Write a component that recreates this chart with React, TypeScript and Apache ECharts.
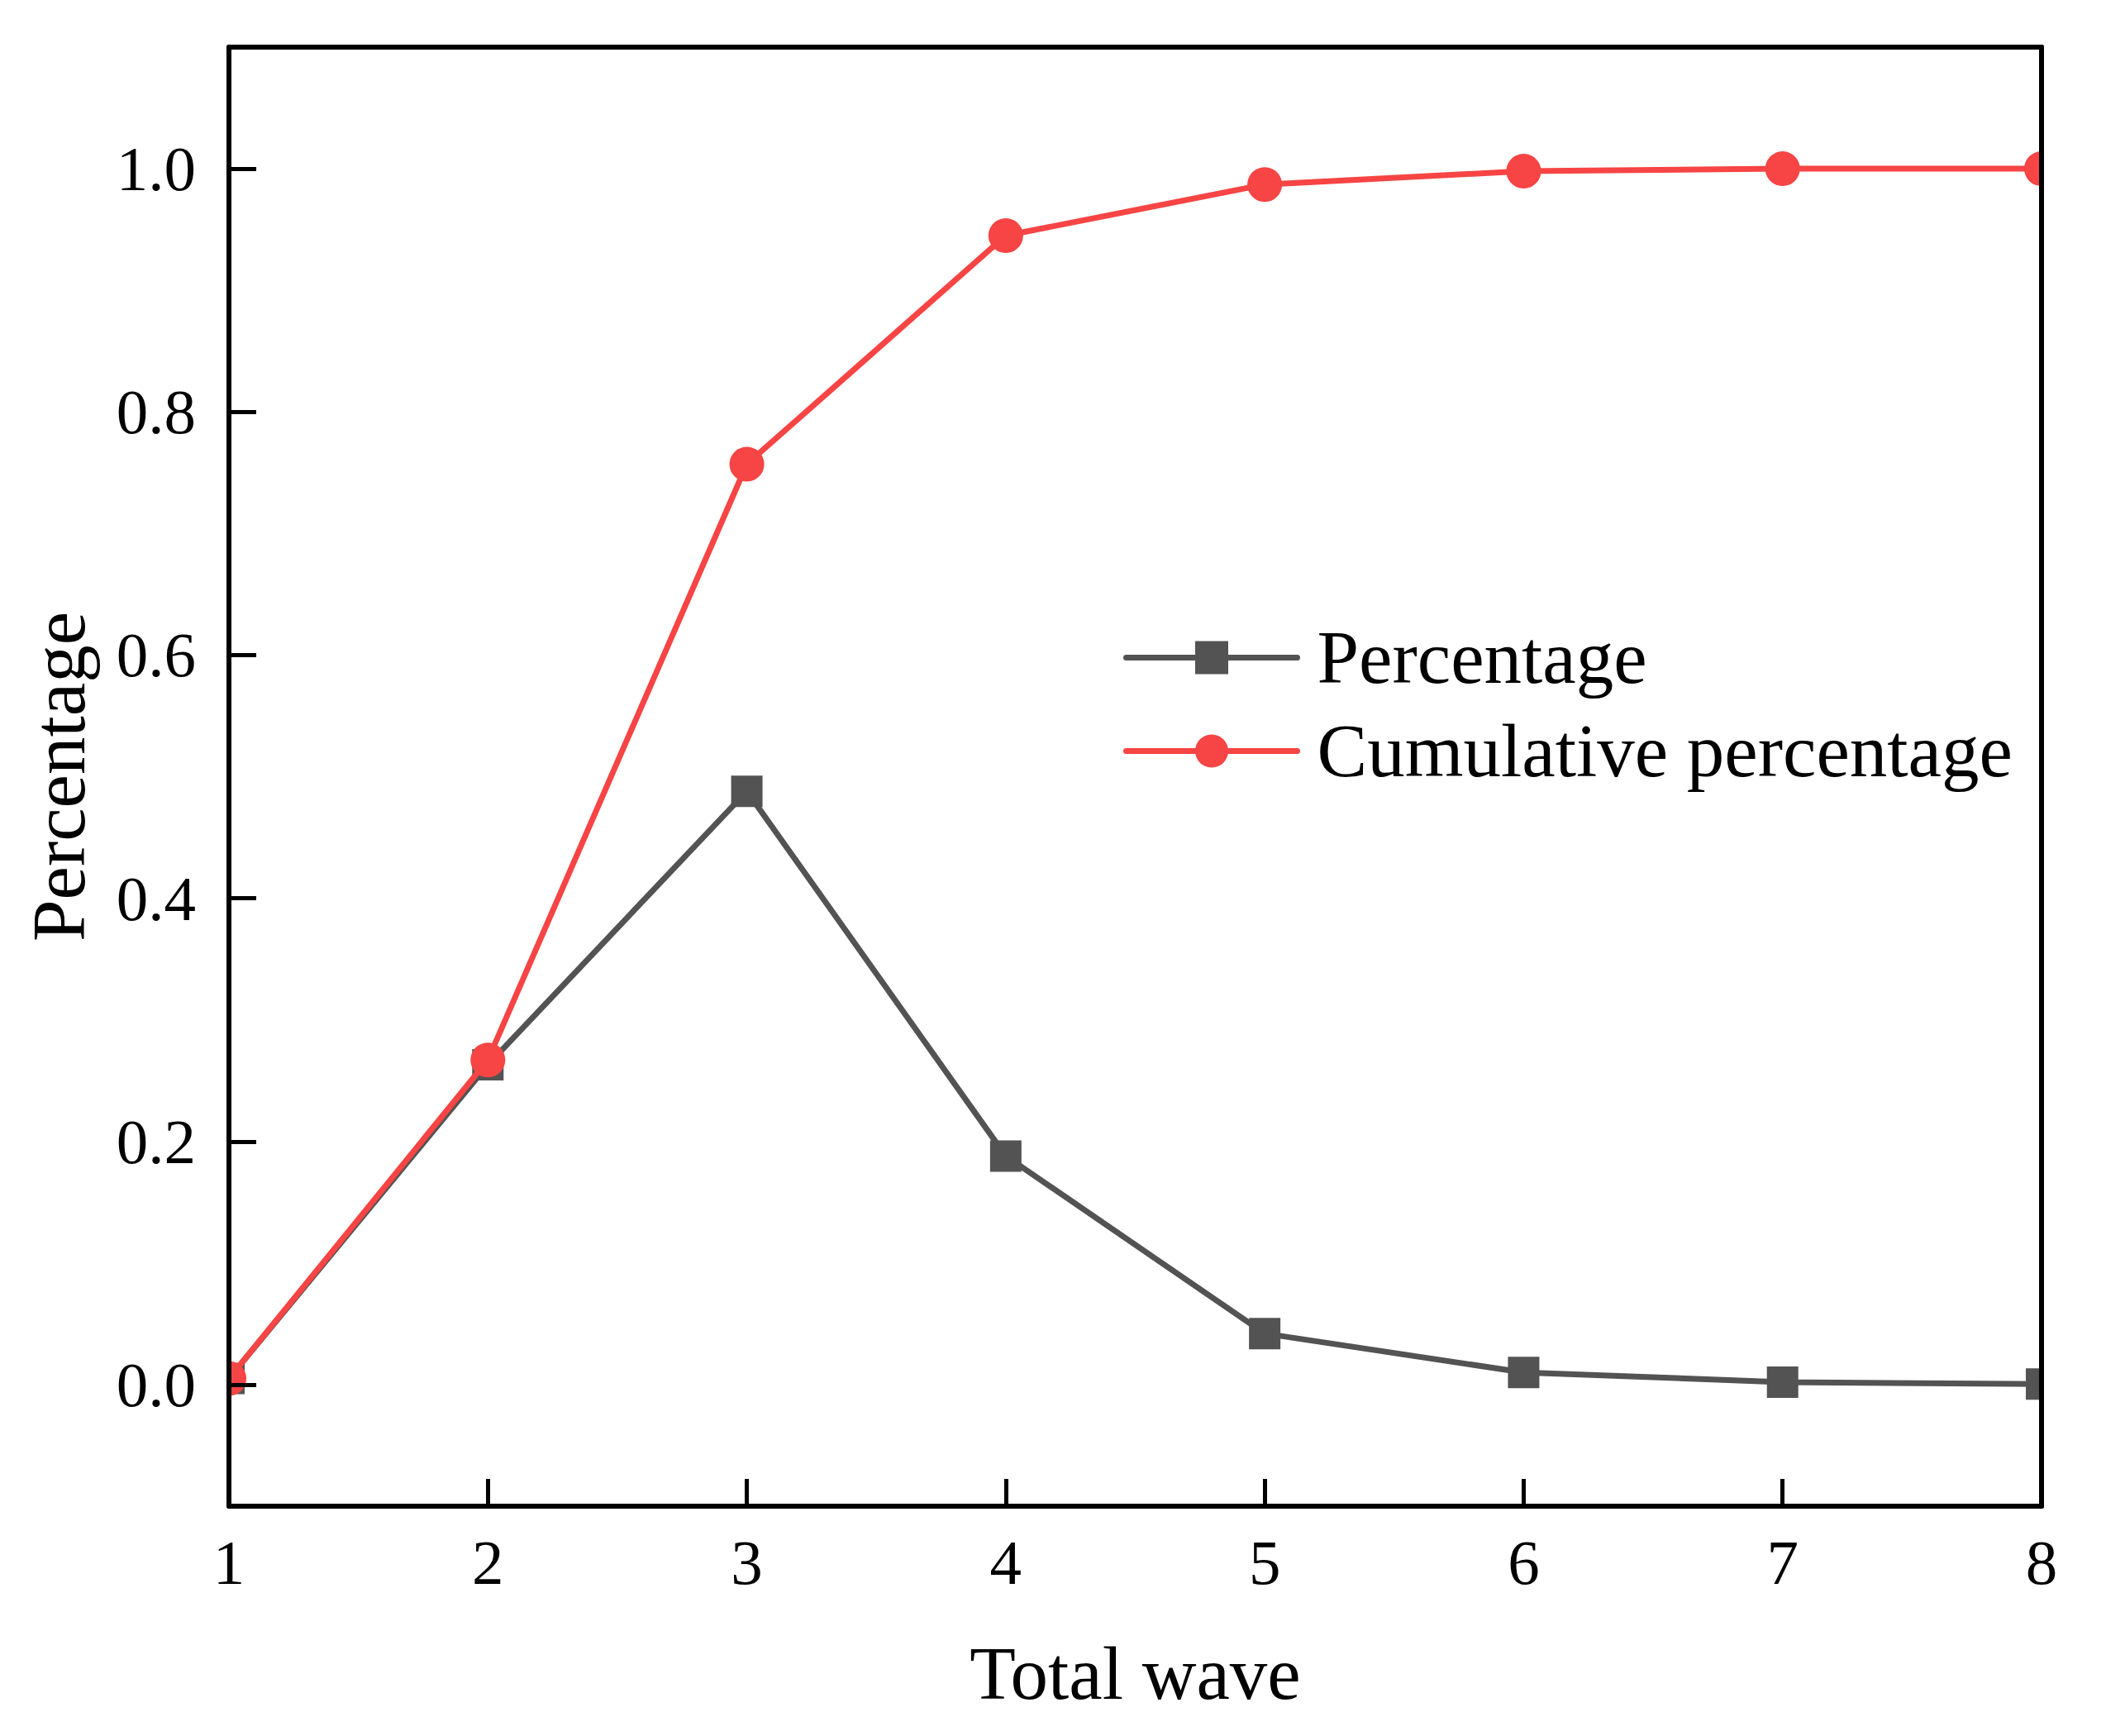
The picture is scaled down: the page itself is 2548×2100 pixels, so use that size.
import React, { useEffect, useRef } from "react";
import * as echarts from "echarts";

const waves = [1, 2, 3, 4, 5, 6, 7, 8];
const percentage = [0.005, 0.263, 0.488, 0.188, 0.042, 0.01, 0.002, 0.0005];
const cumulative = [0.005, 0.267, 0.757, 0.945, 0.987, 0.998, 1.0, 1.0];
const yTicks = [0, 0.2, 0.4, 0.6, 0.8, 1.0];

const W = 2548;
const H = 2100;
const GL = 277;
const GR = 78;
const GT = 57;
const GB = 278;
const FONT = '"Liberation Serif", "Times New Roman", serif';
const GRAY = "#535353";
const RED = "#F74444";

export default function App() {
  const ref = useRef<HTMLDivElement>(null);
  useEffect(() => {
    if (!ref.current) return;
    const chart = echarts.init(ref.current, null, { renderer: "svg" });
    const axisLine = { show: true, onZero: false, lineStyle: { color: "#000", width: 6 } };
    chart.setOption({
      animation: false,
      backgroundColor: "#fff",
      grid: { left: GL, right: GR, top: GT, bottom: GB, containLabel: false },
      legend: {
        orient: "vertical",
        left: 1354,
        top: 745,
        itemWidth: 207,
        itemHeight: 50,
        itemGap: 22,
        textStyle: { fontFamily: FONT, fontSize: 91, color: "#000", padding: [0, 0, 0, 19] },
        data: [
          { name: "Percentage", lineStyle: { width: 7, color: GRAY, cap: "round" } },
          { name: "Cumulative percentage", lineStyle: { width: 7, color: RED, cap: "round" } },
        ],
      },
      xAxis: [
        {
          type: "value",
          min: 1,
          max: 8,
          interval: 1,
          z: 10,
          name: "Total wave",
          nameLocation: "middle",
          nameGap: 157,
          nameTextStyle: { fontFamily: FONT, fontSize: 91, color: "#000" },
          axisLine,
          axisTick: { show: true, inside: true, length: 33, lineStyle: { color: "#000", width: 5 } },
          axisLabel: { fontFamily: FONT, fontSize: 77, color: "#000", margin: 29 },
          splitLine: { show: false },
        },
        {
          type: "value",
          position: "top",
          min: 1,
          max: 8,
          z: 10,
          axisLine,
          axisTick: { show: false },
          axisLabel: { show: false },
          splitLine: { show: false },
        },
      ],
      yAxis: [
        {
          type: "value",
          min: -0.1,
          max: 1.1,
          z: 10,
          name: "Percentage",
          nameLocation: "middle",
          nameGap: 160,
          nameTextStyle: { fontFamily: FONT, fontSize: 91, color: "#000" },
          axisLine,
          axisTick: {
            show: true,
            inside: true,
            length: 33,
            customValues: yTicks,
            lineStyle: { color: "#000", width: 5 },
          },
          axisLabel: {
            fontFamily: FONT,
            fontSize: 77,
            color: "#000",
            margin: 40,
            customValues: yTicks,
            formatter: (v: number) => v.toFixed(1),
          },
          splitLine: { show: false },
        },
        {
          type: "value",
          position: "right",
          min: -0.1,
          max: 1.1,
          z: 10,
          axisLine,
          axisTick: { show: false },
          axisLabel: { show: false },
          splitLine: { show: false },
        },
      ],
      graphic: [
        { type: "rect", z: 5, shape: { x: 0, y: 0, width: GL - 3, height: H }, style: { fill: "#fff" } },
        { type: "rect", z: 5, shape: { x: W - GR + 3, y: 0, width: GR, height: H }, style: { fill: "#fff" } },
      ],
      series: [
        {
          name: "Percentage",
          type: "line",
          data: waves.map((w, i) => [w, percentage[i]]),
          symbol: "rect",
          symbolSize: 38,
          lineStyle: { color: GRAY, width: 7 },
          itemStyle: { color: GRAY },
          z: 2,
        },
        {
          name: "Cumulative percentage",
          type: "line",
          data: waves.map((w, i) => [w, cumulative[i]]),
          symbol: "circle",
          symbolSize: 42,
          lineStyle: { color: RED, width: 7 },
          itemStyle: { color: RED },
          z: 3,
        },
      ],
    });
    return () => chart.dispose();
  }, []);
  return (
    <div
      ref={ref}
      style={{ position: "absolute", left: 0, top: 0, width: W, height: H, background: "#fff" }}
    />
  );
}
